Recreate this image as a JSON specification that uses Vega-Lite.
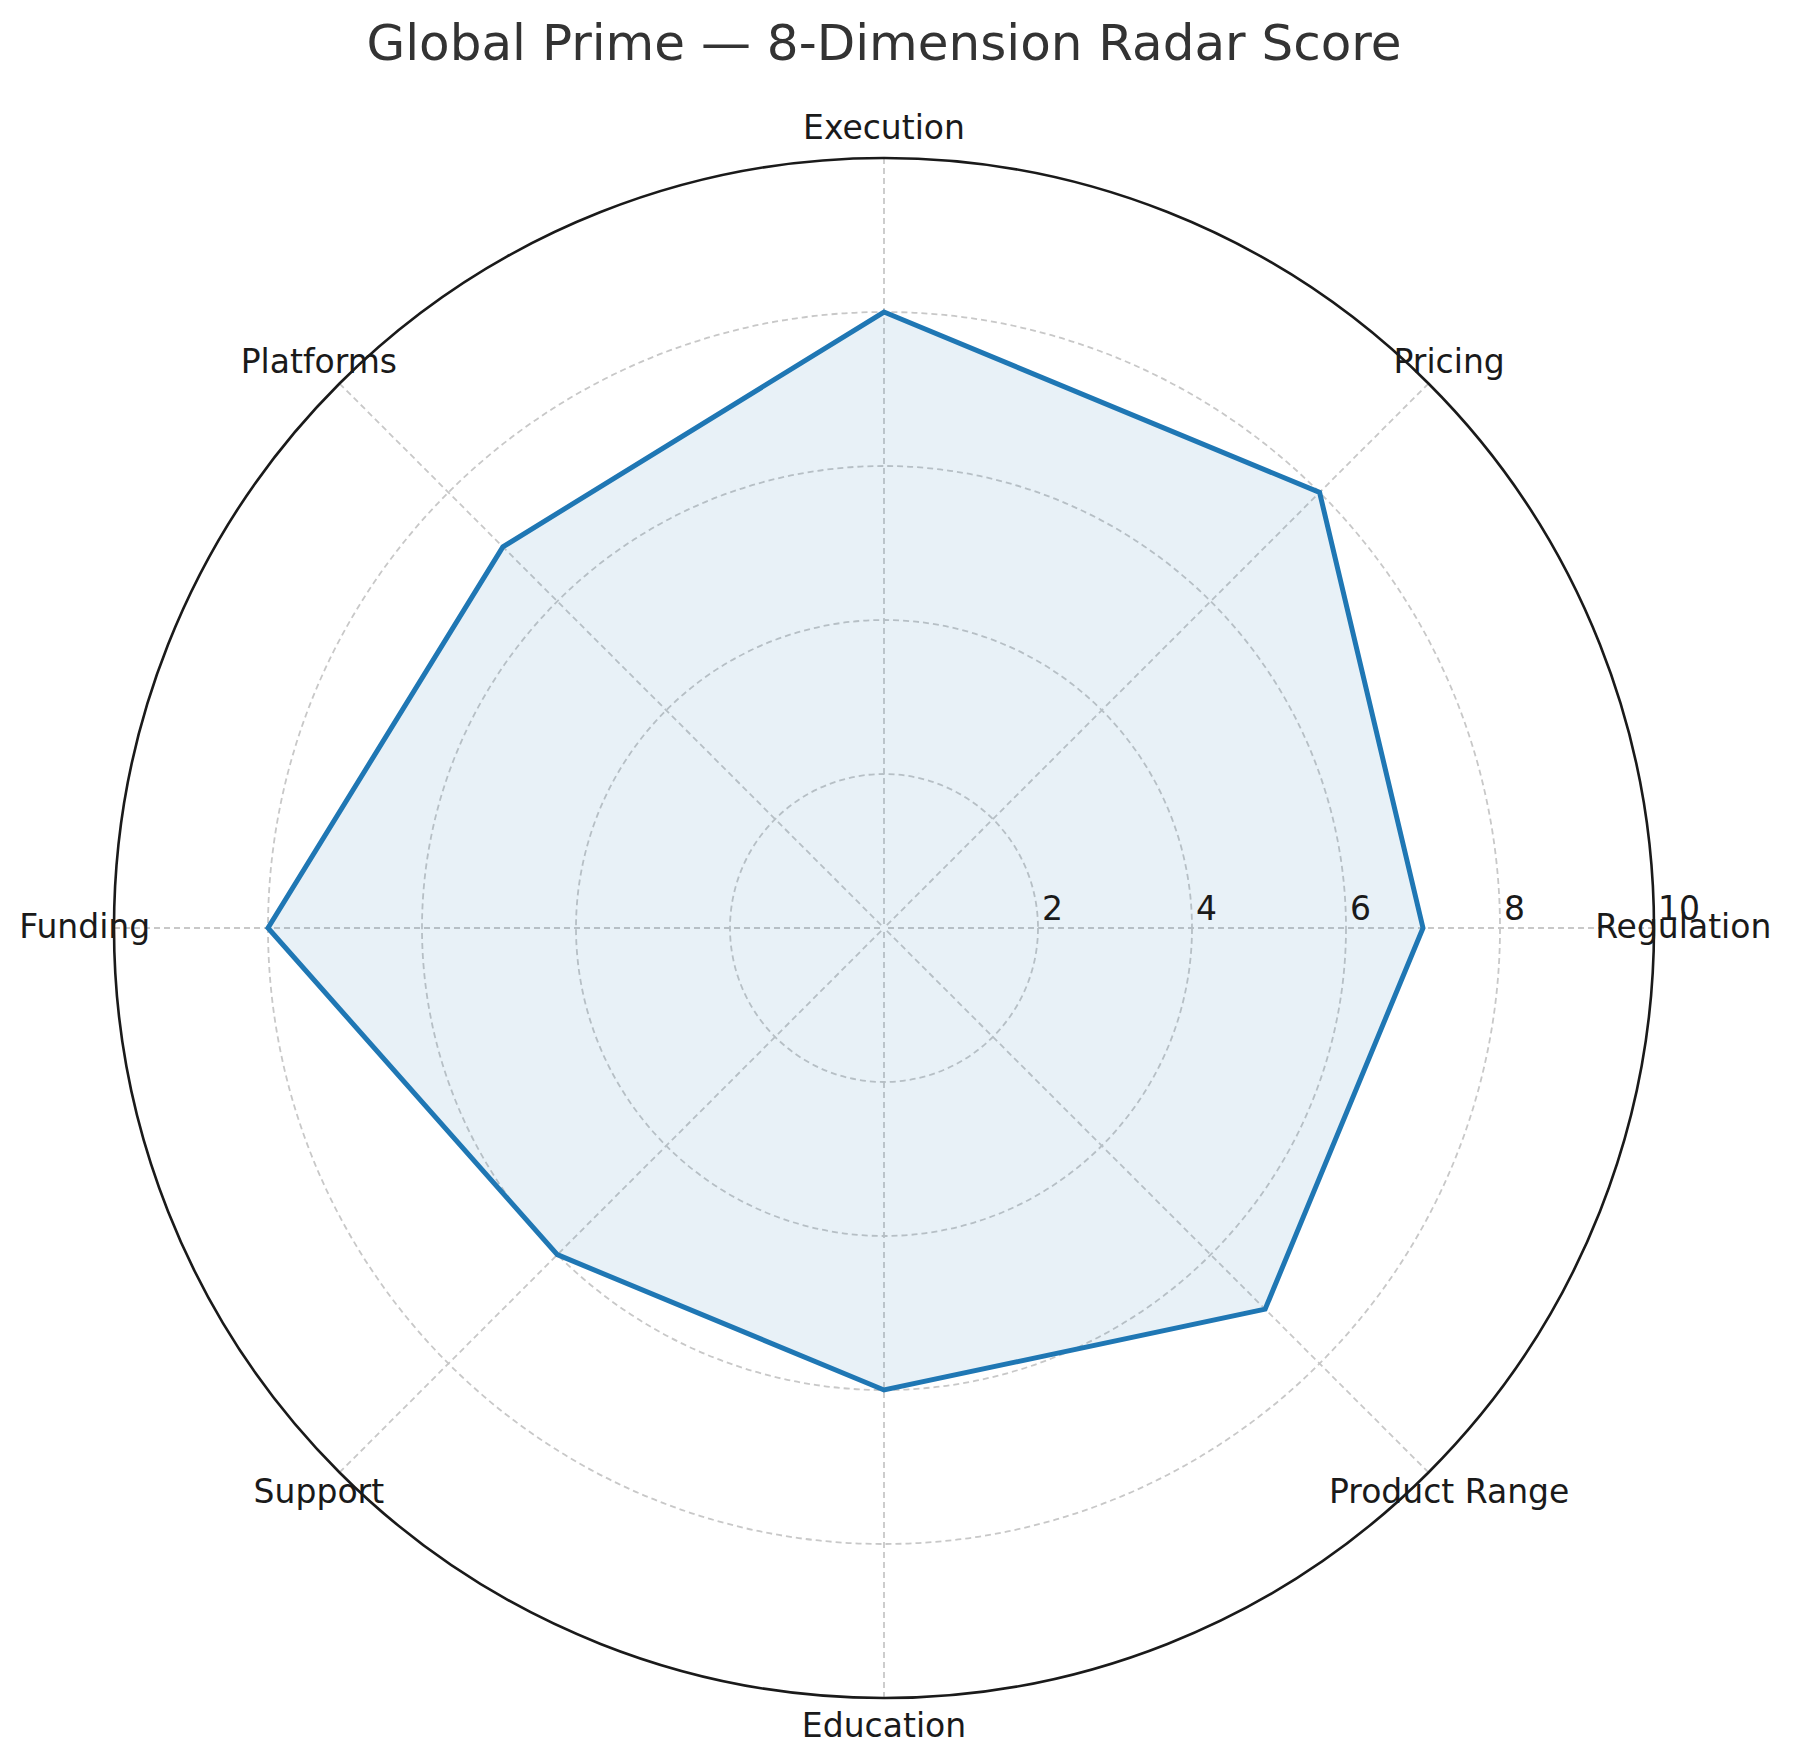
{
  "$schema": "https://vega.github.io/schema/vega-lite/v6.json",
  "autosize": {"type": "none"},
  "padding": {"left": 114, "top": 158, "right": 139, "bottom": 66},
  "width": 1540,
  "height": 1540,
  "title": {
    "text": "Global Prime — 8-Dimension Radar Score",
    "font": "DejaVu Sans",
    "fontSize": 50,
    "fontWeight": "normal",
    "color": "#333333",
    "anchor": "middle",
    "offset": 43
  },
  "datasets": {
    "scores": [
      {"dimension": "Regulation", "idx": 0, "score": 7},
      {"dimension": "Pricing", "idx": 1, "score": 8},
      {"dimension": "Execution", "idx": 2, "score": 8},
      {"dimension": "Platforms", "idx": 3, "score": 7},
      {"dimension": "Funding", "idx": 4, "score": 8},
      {"dimension": "Support", "idx": 5, "score": 6},
      {"dimension": "Education", "idx": 6, "score": 6},
      {"dimension": "Product Range", "idx": 7, "score": 7}
    ],
    "rings": [
      {"r": 2, "label": "2"},
      {"r": 4, "label": "4"},
      {"r": 6, "label": "6"},
      {"r": 8, "label": "8"},
      {"r": 10, "label": "10"}
    ]
  },
  "layer": [
    {
      "data": {"name": "rings"},
      "transform": [{"filter": "datum.r < 10"}],
      "mark": {"type": "point", "shape": "circle", "filled": false, "stroke": "#c8c8c8", "strokeWidth": 1.8, "strokeDash": [6, 4], "opacity": 1},
      "encoding": {
        "x": {"datum": 0, "type": "quantitative", "scale": {"domain": [-10, 10], "nice": false, "zero": false}, "axis": null},
        "y": {"datum": 0, "type": "quantitative", "scale": {"domain": [-10, 10], "nice": false, "zero": false}, "axis": null},
        "size": {"field": "r", "type": "quantitative", "scale": {"type": "pow", "exponent": 2, "domain": [0, 10], "range": [0, 2371600], "zero": true}, "legend": null}
      }
    },
    {
      "data": {"name": "scores"},
      "transform": [
        {"calculate": "datum.idx * PI / 4", "as": "a"},
        {"calculate": "10 * cos(datum.a)", "as": "ex"},
        {"calculate": "10 * sin(datum.a)", "as": "ey"}
      ],
      "mark": {"type": "rule", "color": "#c8c8c8", "strokeWidth": 1.8, "strokeDash": [6, 4]},
      "encoding": {
        "x": {"field": "ex", "type": "quantitative", "scale": {"domain": [-10, 10], "nice": false, "zero": false}, "axis": null},
        "y": {"field": "ey", "type": "quantitative", "scale": {"domain": [-10, 10], "nice": false, "zero": false}, "axis": null},
        "x2": {"datum": 0},
        "y2": {"datum": 0}
      }
    },
    {
      "data": {"name": "scores"},
      "transform": [
        {"calculate": "datum.idx * PI / 4", "as": "a"},
        {"calculate": "datum.score * cos(datum.a)", "as": "px"},
        {"calculate": "datum.score * sin(datum.a)", "as": "py"}
      ],
      "mark": {"type": "line", "interpolate": "linear-closed", "stroke": "#1f77b4", "strokeWidth": 5, "fill": "#1f77b4", "fillOpacity": 0.1, "strokeJoin": "miter"},
      "encoding": {
        "x": {"field": "px", "type": "quantitative", "scale": {"domain": [-10, 10], "nice": false, "zero": false}, "axis": null},
        "y": {"field": "py", "type": "quantitative", "scale": {"domain": [-10, 10], "nice": false, "zero": false}, "axis": null},
        "order": {"field": "idx", "type": "quantitative"}
      }
    },
    {
      "data": {"name": "rings"},
      "transform": [{"filter": "datum.r == 10"}],
      "mark": {"type": "point", "shape": "circle", "filled": false, "stroke": "#1a1a1a", "strokeWidth": 2.6, "opacity": 1},
      "encoding": {
        "x": {"datum": 0, "type": "quantitative", "scale": {"domain": [-10, 10], "nice": false, "zero": false}, "axis": null},
        "y": {"datum": 0, "type": "quantitative", "scale": {"domain": [-10, 10], "nice": false, "zero": false}, "axis": null},
        "size": {"field": "r", "type": "quantitative", "scale": {"type": "pow", "exponent": 2, "domain": [0, 10], "range": [0, 2371600], "zero": true}, "legend": null}
      }
    },
    {
      "data": {"name": "rings"},
      "mark": {"type": "text", "align": "left", "baseline": "middle", "dx": 4, "dy": -18, "font": "DejaVu Sans", "fontSize": 33, "color": "#1a1a1a"},
      "encoding": {
        "x": {"field": "r", "type": "quantitative", "scale": {"domain": [-10, 10], "nice": false, "zero": false}, "axis": null},
        "y": {"datum": 0, "type": "quantitative", "scale": {"domain": [-10, 10], "nice": false, "zero": false}, "axis": null},
        "text": {"field": "label", "type": "nominal"}
      }
    },
    {
      "data": {"name": "scores"},
      "transform": [
        {"calculate": "datum.idx * PI / 4", "as": "a"},
        {"calculate": "10.38 * cos(datum.a)", "as": "lx"},
        {"calculate": "10.38 * sin(datum.a)", "as": "ly"}
      ],
      "mark": {"type": "text", "align": "center", "baseline": "middle", "font": "DejaVu Sans", "fontSize": 33, "color": "#1a1a1a"},
      "encoding": {
        "x": {"field": "lx", "type": "quantitative", "scale": {"domain": [-10, 10], "nice": false, "zero": false}, "axis": null},
        "y": {"field": "ly", "type": "quantitative", "scale": {"domain": [-10, 10], "nice": false, "zero": false}, "axis": null},
        "text": {"field": "dimension", "type": "nominal"}
      }
    }
  ],
  "config": {"view": {"stroke": null}}
}
